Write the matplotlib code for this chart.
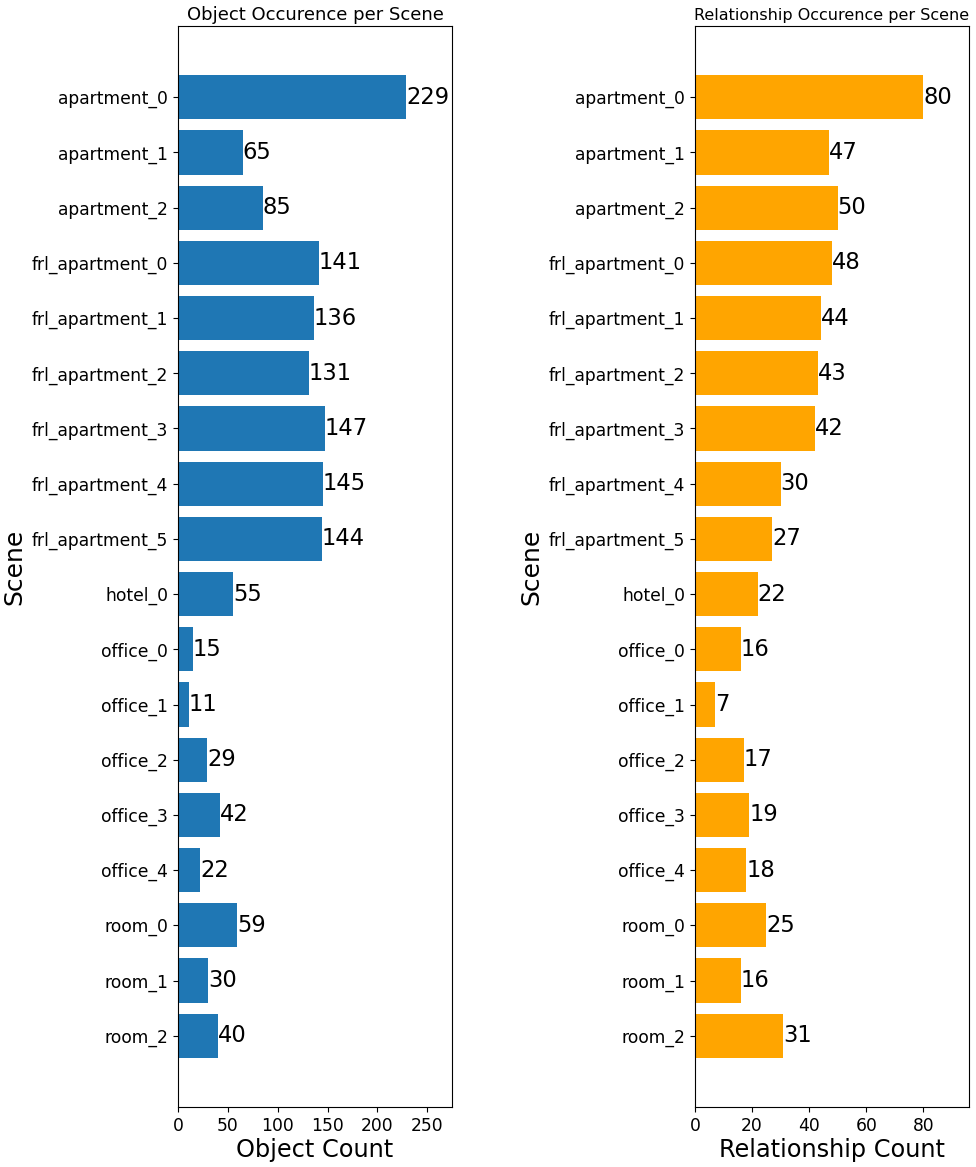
import matplotlib
matplotlib.use("Agg")
import matplotlib.pyplot as plt
from matplotlib.ticker import MultipleLocator

scenes = ["apartment_0", "apartment_1", "apartment_2", "frl_apartment_0", "frl_apartment_1",
          "frl_apartment_2", "frl_apartment_3", "frl_apartment_4", "frl_apartment_5", "hotel_0",
          "office_0", "office_1", "office_2", "office_3", "office_4", "room_0", "room_1", "room_2"]
object_counts = [229, 65, 85, 141, 136, 131, 147, 145, 144, 55, 15, 11, 29, 42, 22, 59, 30, 40]
relationship_counts = [80, 47, 50, 48, 44, 43, 42, 30, 27, 22, 16, 7, 17, 19, 18, 25, 16, 31]

fig = plt.figure(figsize=(9.76, 11.67), dpi=100)
W, H = 976, 1167
ax1 = fig.add_axes([178 / W, 1 - 1107 / H, (452 - 178) / W, (1107 - 26) / H])
ax2 = fig.add_axes([695 / W, 1 - 1107 / H, (969 - 695) / W, (1107 - 26) / H])

panels = [
    (ax1, object_counts, "#1f77b4", "Object Occurence per Scene", "Object Count", 13, 50),
    (ax2, relationship_counts, "orange", "Relationship Occurence per Scene", "Relationship Count", 11.5, 20),
]
for ax, vals, col, title, xlabel, tsize, step in panels:
    bars = ax.barh(scenes, vals, color=col, height=0.8)
    ax.invert_yaxis()
    ax.bar_label(bars, labels=[str(v) for v in vals], padding=0, fontsize=16.3)
    ax.set_xlim(0, max(vals) * 1.2)
    ax.xaxis.set_major_locator(MultipleLocator(step))
    ax.set_title(title, fontsize=tsize, pad=4)
    ax.set_xlabel(xlabel, fontsize=17.3, labelpad=2)
    ax.set_ylabel("Scene", fontsize=18)
    ax.tick_params(axis="both", labelsize=12.3)

fig.savefig("out.png", dpi=100)
